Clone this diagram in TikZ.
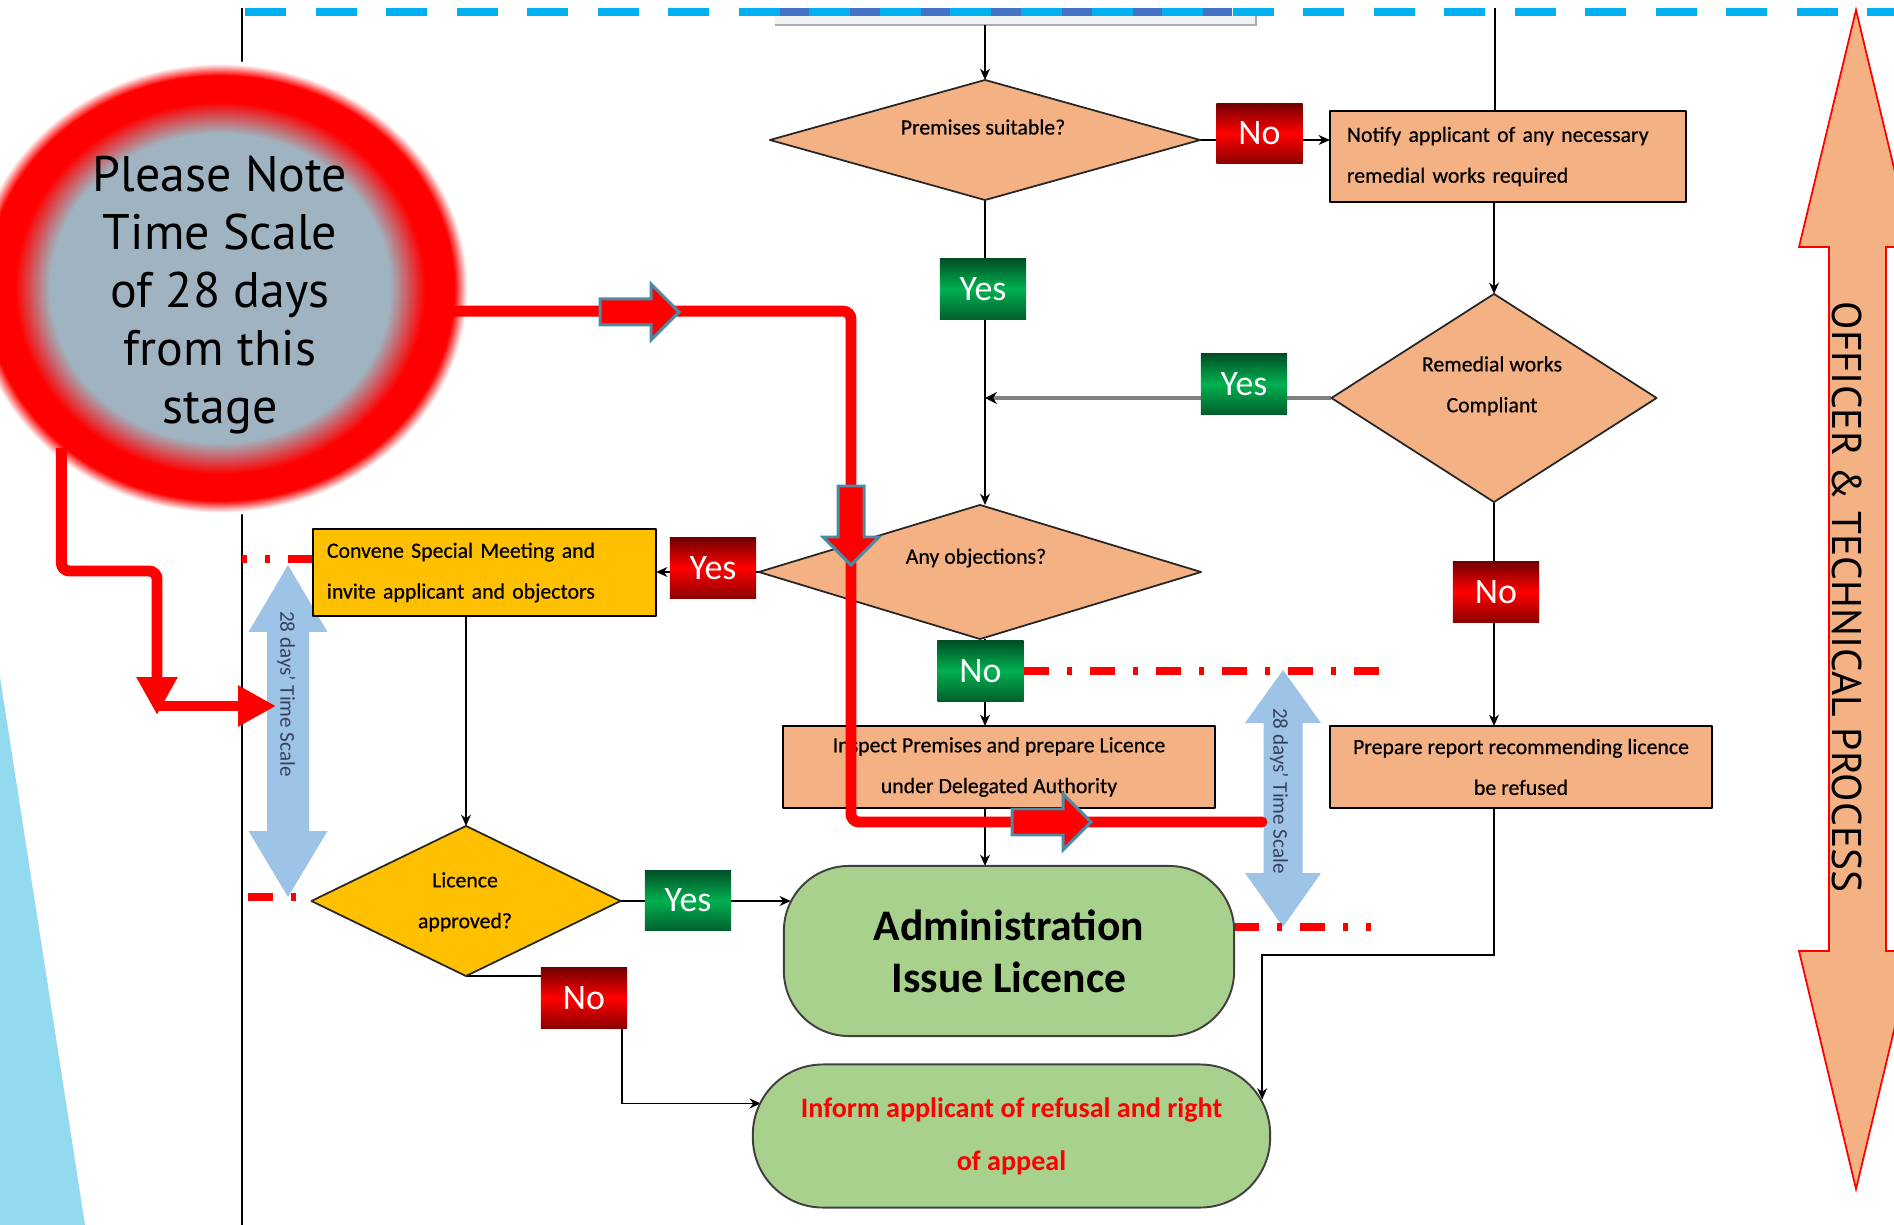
\documentclass[tikz,border=0pt]{standalone}
\usepackage{fontspec}
\setmainfont{Carlito}
\newfontfamily\notefont{PT Sans}
\newfontfamily\boxfont{Carlito}[FakeBold=0.5]
\usetikzlibrary{shapes.geometric,arrows.meta,calc}

\definecolor{peach}{RGB}{244,177,131}
\definecolor{amber}{RGB}{255,192,0}
\definecolor{leaf}{RGB}{169,209,142}
\definecolor{sky}{RGB}{0,176,240}
\definecolor{navyband}{RGB}{68,114,196}
\definecolor{paleblue}{RGB}{157,195,230}
\definecolor{wedge}{RGB}{146,218,240}
\definecolor{notegray}{RGB}{159,180,192}
\definecolor{arrowedge}{RGB}{75,140,165}
\definecolor{slate}{RGB}{55,65,95}
\definecolor{gtop}{RGB}{0,80,38}
\definecolor{gmid}{RGB}{0,176,80}
\definecolor{gbot}{RGB}{0,95,45}
\definecolor{rtop}{RGB}{115,0,0}
\definecolor{rmid}{RGB}{255,0,0}
\definecolor{rbot}{RGB}{140,0,0}
\definecolor{boxedge}{RGB}{166,173,186}

% soft red ring round a grey-blue disc
\pgfdeclareradialshading{notering}{\pgfpoint{0bp}{0bp}}{color(0bp)=(notegray); color(17bp)=(notegray); color(20.5bp)=(red); color(23.4bp)=(red); color(24.7bp)=(white); color(50bp)=(white)}

\pgfdeclarelayer{back}
\pgfdeclarelayer{lines}
\pgfdeclarelayer{front}
\pgfdeclarelayer{top}
\pgfsetlayers{back,lines,main,top,front}

\begin{document}
\begin{tikzpicture}[x=0.01cm,y=-0.01cm,line join=round,
  conn/.style={draw=black, line width=0.55pt, -{Stealth[length=3.2pt,width=2.8pt]}},
  plain/.style={draw=black, line width=0.55pt},
  smalltext/.style={font=\boxfont\fontsize{6.2}{11.6}\selectfont},
  proc/.style={rectangle, draw=black, line width=0.6pt, fill=peach, inner sep=0pt, outer sep=0pt, smalltext},
  decide/.style={diamond, draw=black!85, line width=0.5pt, fill=peach, inner sep=0pt, outer sep=0pt},
  dtext/.style={smalltext, align=center, inner sep=0pt},
  flag/.style={rectangle, minimum width=0.86cm, minimum height=0.6cm, inner sep=0pt, text=white, font=\fontsize{10.2}{12}\selectfont},
  yesflag/.style={flag, top color=gtop, bottom color=gbot, middle color=gmid},
  noflag/.style={flag, top color=rtop, bottom color=rbot, middle color=rmid},
  term/.style={rectangle, rounded corners=0.65cm, draw=black!75, line width=0.55pt, fill=leaf, inner sep=0pt, outer sep=0pt, align=center},
  tdash/.style={draw=red, line width=2pt, dash pattern=on 0.25cm off 0.18cm on 0.05cm off 0.18cm},
  redconn/.style={draw=red, line width=3.1pt, rounded corners=0.08cm},
  redtip/.style={-{Triangle[length=10.8pt,width=11pt]}},
  spantext/.style={rotate=-90, text=slate, font=\fontsize{6}{7}\selectfont, inner sep=0pt},
  blockarrow/.pic={\path[fill=red, draw=arrowedge, line width=0.85pt, line join=miter]
      (-40,-13) -- (11,-13) -- (11,-28) -- (39,0) -- (11,28) -- (11,13) -- (-40,13) -- cycle;}
]
\useasboundingbox (0,0) rectangle (1894,1225);

% ---------- background ----------
\begin{pgfonlayer}{back}
  \fill[white] (0,0) rectangle (1894,1225);
  \fill[wedge] (0,677) -- (85,1225) -- (0,1225) -- cycle;
  % lane boundary at the top
  \fill[black!5] (775,10) rectangle (1256,25);
  \draw[boxedge, line width=0.8pt] (775,25) -- (1256,25) -- (1256,14);
  \draw[navyband, line width=2.3pt] (780,12) -- (1232,12);
  \draw[sky, line width=2.3pt, dash pattern=on 0.41cm off 0.295cm] (245,12) -- (1894,12);
  \draw[black, line width=0.75pt] (242,8) -- (242,1225);
  % officer & technical process double arrow
  \draw[fill=peach, draw=red, line width=0.5pt]
    (1856,10) -- (1913,247) -- (1886,247) -- (1886,951) -- (1913,951) -- (1856,1189)
    -- (1799,951) -- (1829,951) -- (1829,247) -- (1799,247) -- cycle;
  % 28 day span arrows
  \fill[paleblue] (288,565) -- (327.5,632) -- (309,632) -- (309,831) -- (327.5,831) -- (288,897)
    -- (248.5,831) -- (267,831) -- (267,632) -- (248.5,632) -- cycle;
  \fill[paleblue] (1283,670) -- (1321,723) -- (1302.5,723) -- (1302.5,873) -- (1321,873) -- (1283,927)
    -- (1245,873) -- (1263.5,873) -- (1263.5,723) -- (1245,723) -- cycle;
\end{pgfonlayer}

\node[rotate=-90, font=\notefont\fontsize{11.8}{14}\selectfont, inner sep=0pt] (lane) at (1847,597) {OFFICER \& TECHNICAL PROCESS};
\node[spantext] (spanL) at (286,694) {28 days' Time Scale};
\node[spantext] (spanR) at (1279,791) {28 days' Time Scale};

% ---------- decisions ----------
\node[decide, minimum width=4.3cm, minimum height=1.2cm] (prem) at (985,140) {};
\node[dtext] (premtx) at (983,127) {Premises suitable?};
\node[decide, minimum width=3.25cm, minimum height=2.08cm] (remed) at (1494,398) {};
\node[dtext] (remedtx) at (1492,386) {Remedial works\\Compliant};
\node[decide, minimum width=4.42cm, minimum height=1.34cm] (anyobj) at (980,572) {};
\node[dtext] (anyobjtx) at (976,558) {Any objections?};
\node[decide, fill=amber, minimum width=3.09cm, minimum height=1.5cm] (licence) at (466,901) {};
\node[dtext] (licencetx) at (465,902) {Licence\\approved?};

% ---------- process boxes ----------
\node[proc, minimum width=3.56cm, minimum height=0.91cm, text width=3.22cm, align=left] (notify) at (1508,156.5)
  {Notify applicant of any necessary\\remedial works required};
\node[proc, fill=amber, minimum width=3.43cm, minimum height=0.87cm, text width=3.15cm, align=left] (convene) at (484.5,572.5)
  {Convene Special Meeting and\\invite applicant and objectors};
\node[proc, minimum width=4.32cm, minimum height=0.82cm, align=center] (inspect) at (999,767)
  {Inspect Premises and prepare Licence\\under Delegated Authority};
\node[proc, minimum width=3.82cm, minimum height=0.82cm, align=center] (prepare) at (1521,767)
  {Prepare report recommending licence\\be refused};

% ---------- end states ----------
\node[term, minimum width=4.5cm, minimum height=1.7cm, font=\bfseries\fontsize{12.4}{14.8}\selectfont] (admin) at (1009,951)
  {Administration\\Issue Licence};
\node[term, rounded corners=0.7cm, minimum width=5.17cm, minimum height=1.43cm, text=red, font=\bfseries\fontsize{8}{15}\selectfont] (inform) at (1011.5,1136)
  {Inform applicant of refusal and right\\of appeal};

% ---------- yes / no flags ----------
\node[noflag]  (noPrem)  at (1259.5,133.5) {No};
\node[yesflag] (yesPrem) at (983,289) {Yes};
\node[yesflag] (yesRem)  at (1244,384) {Yes};
\node[noflag]  (yesObj)  at (713,568) {Yes};
\node[yesflag] (noObj)   at (980.5,671) {No};
\node[noflag]  (noRem)   at (1496,592) {No};
\node[yesflag] (yesLic)  at (688,900.5) {Yes};
\node[noflag]  (noLic)   at (584,998) {No};

% ---------- connectors ----------
\coordinate (topsrc) at (985,25);
\coordinate (toprt) at (1495,8);
\coordinate (adminL) at ([xshift=0.07cm]admin.west);
\coordinate (nob) at ([xshift=-0.06cm]noLic.east);
\coordinate (infl) at ([xshift=0.08cm,yshift=0.325cm]inform.west);
\coordinate (infr) at ([xshift=-0.08cm,yshift=0.365cm]inform.east);
\coordinate (lowmark) at (248,897);
\begin{pgfonlayer}{lines}
  \draw[conn] (topsrc) -- (prem.north);
  \draw[conn] (prem.east) -- (notify.west |- prem.east);
  \draw[plain] (toprt) -- (toprt |- notify.north);
  \draw[conn] (remed.north |- notify.south) -- (remed.north);
  \draw[draw=black!50, line width=1.1pt, -{Stealth[length=3.4pt,width=3.4pt,color=black]}] (remed.west) -- (remed.west -| prem.south);
  \draw[conn] (prem.south) -- (prem.south |- anyobj.north);
  \draw[conn] (anyobj.west) -- (convene.east |- anyobj.west);
  \draw[conn] (prem.south |- anyobj.south) -- (prem.south |- inspect.north);
  \draw[conn] (prem.south |- inspect.south) -- (prem.south |- admin.north);
  \draw[conn] (licence.north |- convene.south) -- (licence.north);
  \draw[conn] (licence.east) -- (adminL |- licence.east);
  \draw[conn] (licence.south) -| (nob) |- (infl);
  \draw[conn] (remed.south) -- (remed.south |- prepare.north);
  \draw[conn] (remed.south |- prepare.south) -- ++(0,147) -| (infr);
  % 28 day markers
  \draw[tdash] ([yshift=0.135cm]convene.west) -- ++(-71,0);
  \draw[tdash] (lowmark) -- ++(52,0);
  \draw[tdash] (noObj.east) -- ++(358,0);
  \draw[tdash] ([yshift=0.24cm]admin.east) -- ++(137,0);
\end{pgfonlayer}

% ---------- time scale note ----------
\begin{pgfonlayer}{top}
  \shade[shading=notering] (220,288) ellipse [x radius=2.5cm, y radius=2.27cm];
  \node[ellipse, minimum width=4.6cm, minimum height=4.2cm, inner sep=0pt, align=center,
        font=\notefont\fontsize{14.2}{16.5}\selectfont] (note) at (220,295)
    {Please Note\\Time Scale\\of 28 days\\from this\\stage};
\end{pgfonlayer}

\coordinate (rc1) at (851,312);
\coordinate (redend) at (1262,822);
\coordinate (rc2) at (157,571);
\coordinate (wtip) at (157,715);
\coordinate (rc3) at (157,706);
\coordinate (ttip) at (276,706);
\begin{pgfonlayer}{front}
  \draw[redconn, line cap=round] (note.-4) -- (note.-4 -| rc1) -- (rc1 |- redend) -- (redend);
  \draw[redconn, redtip] (note.224) -- (note.224 |- rc2) -- (rc2) -- (wtip);
  \draw[redconn, redtip] (rc3) -- (ttip);
  \pic at (640,312) {blockarrow};
  \pic[rotate=-90] at (851,526) {blockarrow};
  \pic at (1052,822) {blockarrow};
\end{pgfonlayer}
\end{tikzpicture}
\end{document}
